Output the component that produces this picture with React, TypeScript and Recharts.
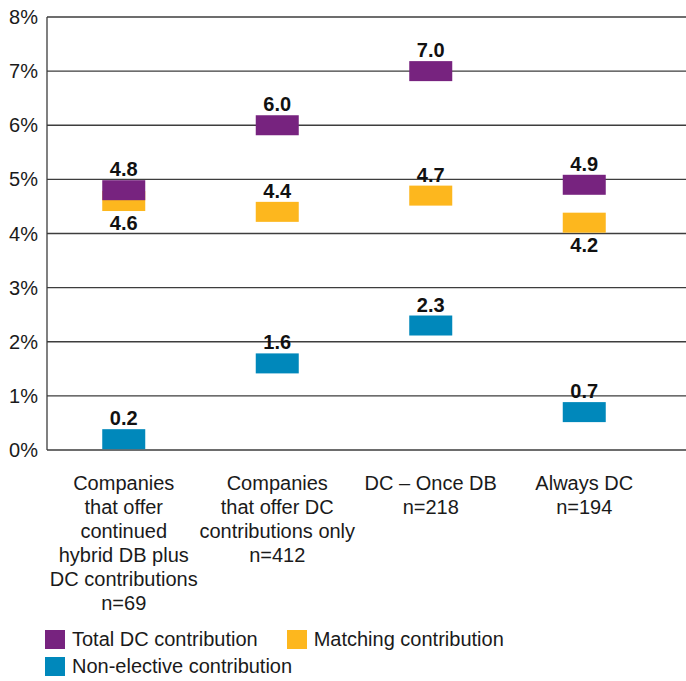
import { ComposedChart, Scatter, XAxis, YAxis, CartesianGrid } from 'recharts';

// Group labels (one entry per line of each axis label)
const categories = ['hybrid', 'dcOnly', 'onceDB', 'alwaysDC'];
const categoryLines: string[][] = [
  ['Companies', 'that offer', 'continued', 'hybrid DB plus', 'DC contributions', 'n=69'],
  ['Companies', 'that offer DC', 'contributions only', 'n=412'],
  ['DC – Once DB', 'n=218'],
  ['Always DC', 'n=194'],
];

// Average contribution, % of pay
const totalDC = [4.8, 6.0, 7.0, 4.9];
const matching = [4.6, 4.4, 4.7, 4.2];
const nonElective = [0.2, 1.6, 2.3, 0.7];

const yTicks = [0, 1, 2, 3, 4, 5, 6, 7, 8];

const PURPLE = '#77237f';
const ORANGE = '#fdb71e';
const BLUE = '#0088bb';
const INK = '#1a1a1a';
const FONT = '"Liberation Sans", Arial, Helvetica, sans-serif';

const BOX_W = 43;
const BOX_H = 20;

type SeriesKey = 'total' | 'matching' | 'nonElective';

const data = categories.map((name, i) => ({
  name,
  total: totalDC[i],
  matching: matching[i],
  nonElective: nonElective[i],
}));

// Floating box centred on the value, with the value printed above
// (matching values sitting just under the total get their label below)
const boxShape = (fill: string, key: SeriesKey) => (props: any) => {
  const { cx, cy, payload } = props;
  const v: number = payload[key];
  const below = key === 'matching' && payload.total - v < 1;
  return (
    <g>
      <rect x={cx - BOX_W / 2} y={cy - BOX_H / 2} width={BOX_W} height={BOX_H} fill={fill} />
      <text
        x={cx}
        y={below ? cy + BOX_H / 2 + 19 : cy - BOX_H / 2 - 4}
        textAnchor="middle"
        fontSize={20}
        fontWeight={700}
        fontFamily={FONT}
        fill="#111"
      >
        {v.toFixed(1)}
      </text>
    </g>
  );
};

const CategoryTick = (props: any) => {
  const { x, y, payload } = props;
  const lines = categoryLines[categories.indexOf(payload.value)] ?? [];
  return (
    <text x={x} y={y} textAnchor="middle" fontSize={20} fontFamily={FONT} fill={INK}>
      {lines.map((line, i) => (
        <tspan key={i} x={x} dy={i === 0 ? 40 : 24}>
          {line}
        </tspan>
      ))}
    </text>
  );
};

const legendItems = [
  { label: 'Total DC contribution', color: PURPLE },
  { label: 'Matching contribution', color: ORANGE },
  { label: 'Non-elective contribution', color: BLUE },
];

export default function App() {
  return (
    <div
      style={{
        position: 'absolute',
        left: 0,
        top: 0,
        width: 686,
        height: 681,
        background: '#fff',
        fontFamily: FONT,
      }}
    >
      <ComposedChart
        width={686}
        height={620}
        data={data}
        margin={{ top: 17, right: 0, left: 0, bottom: 0 }}
      >
        <CartesianGrid horizontal vertical={false} stroke="#3d3d3d" strokeWidth={1.3} />
        <XAxis
          dataKey="name"
          scale="band"
          height={170}
          padding={{ left: 0, right: 25 }}
          axisLine={false}
          tickLine={false}
          tickSize={0}
          tickMargin={0}
          interval={0}
          tick={<CategoryTick />}
        />
        <YAxis
          type="number"
          domain={[0, 8]}
          ticks={yTicks}
          width={47}
          tickFormatter={(v: number) => `${v}%`}
          tickLine={false}
          tickSize={0}
          tickMargin={9}
          axisLine={{ stroke: '#3d3d3d', strokeWidth: 1.3 }}
          tick={{ fontSize: 20, fill: INK, fontFamily: FONT }}
        />
        <Scatter dataKey="nonElective" isAnimationActive={false} shape={boxShape(BLUE, 'nonElective')} />
        <Scatter dataKey="matching" isAnimationActive={false} shape={boxShape(ORANGE, 'matching')} />
        <Scatter dataKey="total" isAnimationActive={false} shape={boxShape(PURPLE, 'total')} />
      </ComposedChart>

      <div
        style={{
          position: 'absolute',
          left: 45,
          top: 630,
          width: 480,
          display: 'flex',
          flexWrap: 'wrap',
          columnGap: 29,
          rowGap: 8,
          fontSize: 20,
          color: INK,
        }}
      >
        {legendItems.map((item) => (
          <div key={item.label} style={{ display: 'flex', alignItems: 'center', height: 19 }}>
            <span style={{ width: 20, height: 19, background: item.color, marginRight: 7 }} />
            <span style={{ lineHeight: '19px', whiteSpace: 'nowrap' }}>{item.label}</span>
          </div>
        ))}
      </div>
    </div>
  );
}
